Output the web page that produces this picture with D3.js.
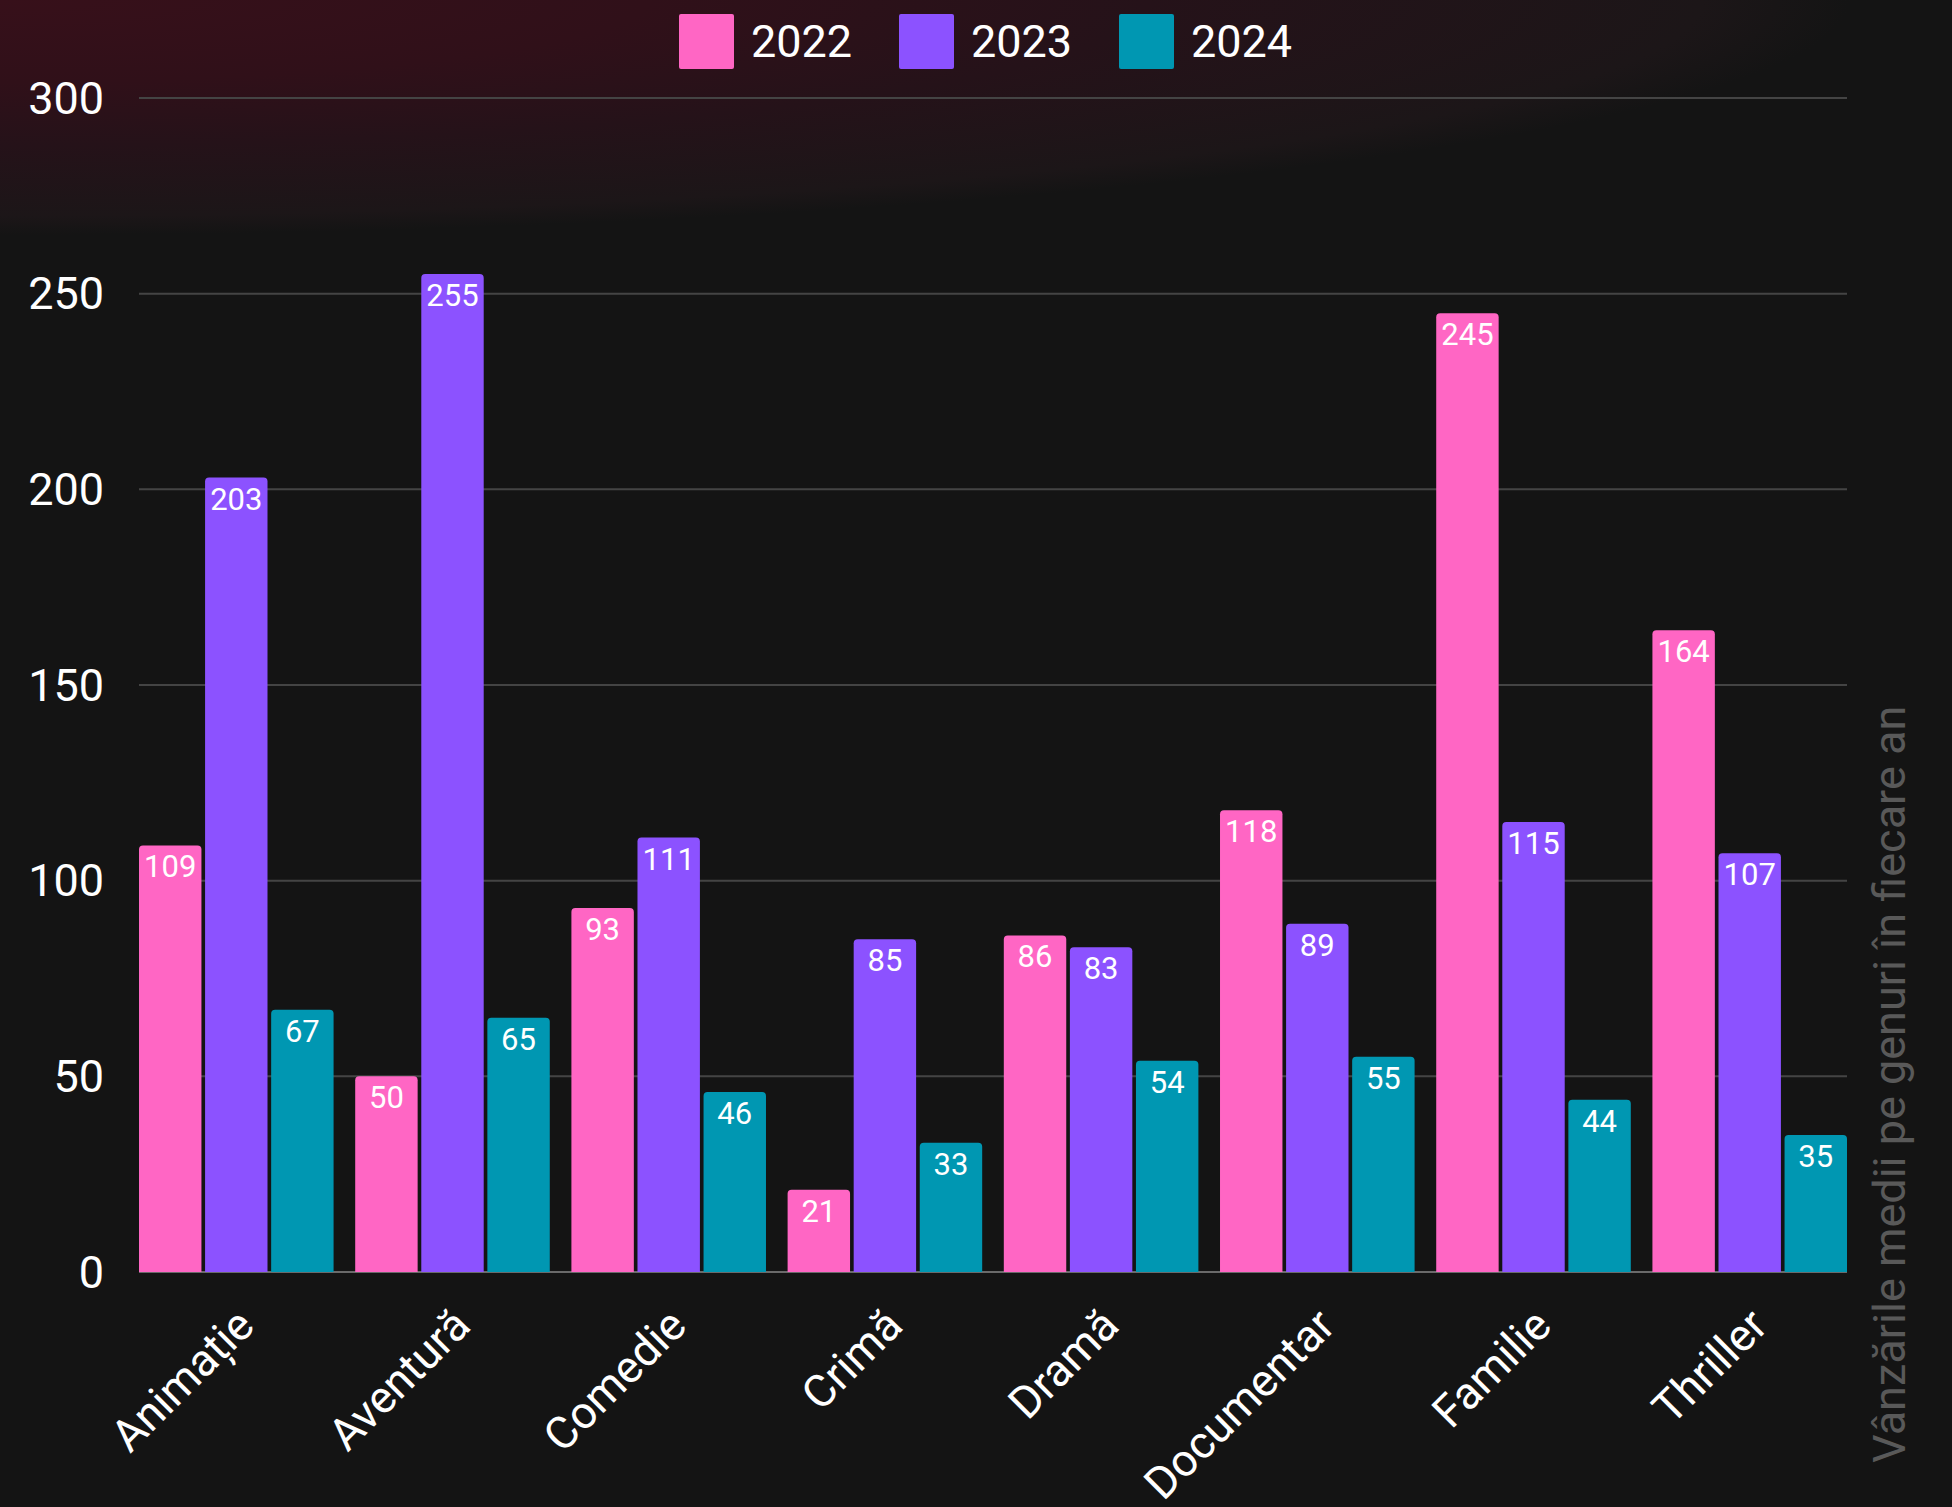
<!DOCTYPE html>
<html>
<head>
<meta charset="utf-8">
<script src="https://cdn.jsdelivr.net/npm/d3@7"></script>
<style>
    html, body { margin: 0; padding: 0; background: #141414; }
    svg { display: block; font-family: Roboto, "Noto Sans", sans-serif; }
</style>
</head>
<body>
<div id="chart"></div>
<script>
const categories = ["Animație", "Aventură", "Comedie", "Crimă", "Dramă", "Documentar", "Familie", "Thriller"];
const years = ["2022", "2023", "2024"];
const values_2022 = [109, 50, 93, 21, 86, 118, 245, 164];
const values_2023 = [203, 255, 111, 85, 83, 89, 115, 107];
const values_2024 = [67, 65, 46, 33, 54, 55, 44, 35];
const y_ticks = [0, 50, 100, 150, 200, 250, 300];
const colors = ["#ff66c4", "#8c52ff", "#0097b2"];
const title = "Vânzările medii pe genuri în fiecare an";

const W = 1952, H = 1507;
const margin = { top: 98, right: 105, bottom: 235, left: 139 },
    width = W - margin.left - margin.right,
    height = H - margin.top - margin.bottom;

const series = [values_2022, values_2023, values_2024];
const rows = categories.map(function (c, i) {
    return { cat: c, vals: years.map(function (y, k) { return { year: y, k: k, value: series[k][i] }; }) };
});

const svg = d3.select("#chart").append("svg")
    .attr("width", W)
    .attr("height", H);

// background with the dark red glow in the top-left corner
const defs = svg.append("defs");
const glow = defs.append("radialGradient")
    .attr("id", "glow")
    .attr("gradientUnits", "userSpaceOnUse")
    .attr("cx", 0).attr("cy", 0).attr("r", 1)
    .attr("gradientTransform", "scale(1850, 235)");
glow.append("stop").attr("offset", "0%").attr("stop-color", "#37101a");
glow.append("stop").attr("offset", "35%").attr("stop-color", "#301019");
glow.append("stop").attr("offset", "62%").attr("stop-color", "#251219");
glow.append("stop").attr("offset", "92%").attr("stop-color", "#1c1618");
glow.append("stop").attr("offset", "100%").attr("stop-color", "#141414");

svg.append("rect").attr("width", W).attr("height", H).attr("fill", "#141414");
svg.append("rect").attr("width", W).attr("height", H).attr("fill", "url(#glow)");

const g = svg.append("g")
    .attr("transform", `translate(${margin.left},${margin.top})`);

const x0 = d3.scaleBand().domain(categories).range([0, width]).paddingInner(0.1).paddingOuter(0);
const x1 = d3.scaleBand().domain(years).range([0, x0.bandwidth()]).paddingInner(0.055);
const y = d3.scaleLinear().domain([0, 300]).range([height, 0]);

// grid
g.selectAll(".grid")
    .data(y_ticks)
    .enter().append("line")
    .attr("x1", 0).attr("x2", width)
    .attr("y1", function (d) { return y(d); })
    .attr("y2", function (d) { return y(d); })
    .attr("stroke", function (d) { return d === 0 ? "#6a6a6a" : "#444"; })
    .attr("stroke-width", 2);

g.selectAll(".ytick")
    .data(y_ticks)
    .enter().append("text")
    .attr("x", -35)
    .attr("y", function (d) { return y(d); })
    .attr("dy", "0.35em")
    .attr("text-anchor", "end")
    .attr("fill", "#fff")
    .style("font-size", "45px")
    .text(function (d) { return d; });

function topRounded(x, yTop, w, h, r) {
    r = Math.min(r, h, w / 2);
    return `M${x},${yTop + h}V${yTop + r}Q${x},${yTop} ${x + r},${yTop}H${x + w - r}Q${x + w},${yTop} ${x + w},${yTop + r}V${yTop + h}Z`;
}

const group = g.selectAll(".group")
    .data(rows)
    .enter().append("g")
    .attr("transform", function (d) { return `translate(${x0(d.cat)},0)`; });

group.selectAll("path")
    .data(function (d) { return d.vals; })
    .enter().append("path")
    .attr("d", function (d) {
        return topRounded(x1(d.year), y(d.value), x1.bandwidth(), height - y(d.value), 4);
    })
    .attr("fill", function (d) { return colors[d.k]; });

group.selectAll(".val")
    .data(function (d) { return d.vals; })
    .enter().append("text")
    .attr("x", function (d) { return x1(d.year) + x1.bandwidth() / 2; })
    .attr("y", function (d) { return y(d.value) + 32; })
    .attr("text-anchor", "middle")
    .attr("fill", "#fff")
    .style("font-size", "31px")
    .text(function (d) { return d.value; });

// category labels
g.selectAll(".xlab")
    .data(categories)
    .enter().append("text")
    .attr("transform", function (d) {
        return `translate(${x0(d) + x0.bandwidth() / 2 + 20},${height + 56}) rotate(-45)`;
    })
    .attr("text-anchor", "end")
    .attr("fill", "#fff")
    .style("font-size", "45px")
    .text(function (d) { return d; });

// legend
const legendStep = 220, sq = 55;
const legend = svg.append("g")
    .attr("transform", `translate(679, 14)`);
const item = legend.selectAll(".item")
    .data(years)
    .enter().append("g")
    .attr("transform", function (d, i) { return `translate(${i * legendStep},0)`; });
item.append("rect")
    .attr("width", sq).attr("height", sq)
    .attr("rx", 2)
    .attr("fill", function (d, i) { return colors[i]; });
item.append("text")
    .attr("x", sq + 17)
    .attr("y", sq / 2)
    .attr("dy", "0.35em")
    .attr("fill", "#fff")
    .style("font-size", "45px")
    .text(function (d) { return d; });

// side title
svg.append("text")
    .attr("transform", "translate(1905,1463) rotate(-90)")
    .attr("text-anchor", "start")
    .attr("fill", "#595959")
    .style("font-size", "45px")
    .text(title);
</script>
</body>
</html>
